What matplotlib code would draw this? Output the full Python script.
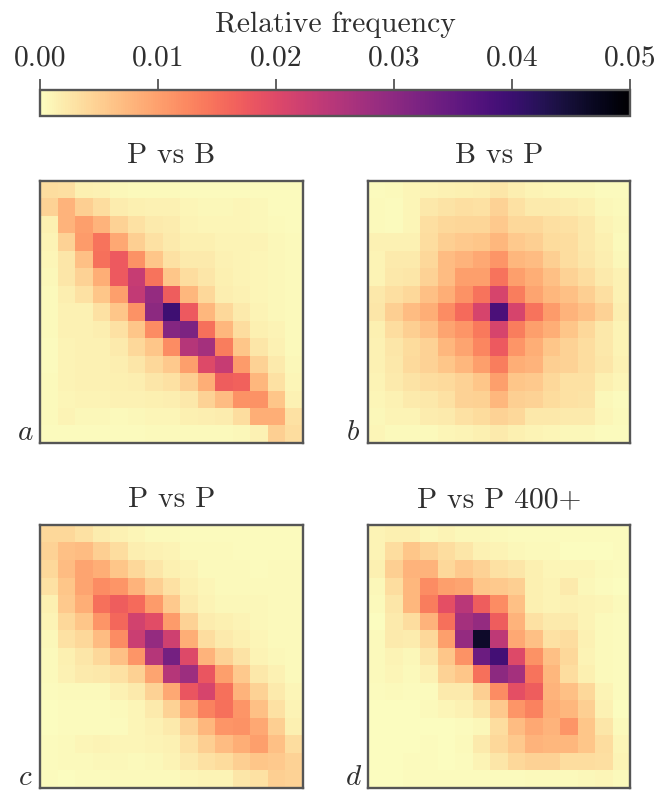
import numpy as np
import matplotlib
matplotlib.use('Agg')
import matplotlib.pyplot as plt

plt.rcParams['font.family'] = 'serif'
plt.rcParams['font.serif'] = ['cmr10']
plt.rcParams['mathtext.fontset'] = 'cm'
plt.rcParams['axes.formatter.use_mathtext'] = True

# relative frequency x 1000
p_vs_b = [
    [3.5, 3.2, 1.5, 1.2, 0.6, 0.5, 0.4, 0.4, 0.3, 0.3, 0.3, 0.3, 0.3, 0.3, 0.3],
    [4.5, 8, 5, 3.5, 1.8, 1.5, 1.2, 1.2, 0.8, 0.7, 0.7, 0.8, 0.6, 0.3, 0.3],
    [1.5, 8, 10, 8, 4.5, 3, 2, 1.8, 1, 0.9, 0.8, 0.8, 0.6, 0.4, 0.3],
    [1, 4.5, 10.5, 14.5, 9, 5, 3, 2, 1.5, 1.4, 1, 1, 1, 0.6, 0.4],
    [0.8, 2.5, 6.5, 15, 17.5, 11.5, 6, 3, 2, 2, 1.2, 1, 0.9, 0.6, 0.4],
    [0.7, 2.5, 4.5, 8.5, 17.5, 23, 14.5, 6, 3.5, 2.5, 1.4, 1, 0.9, 0.7, 0.4],
    [0.5, 1.7, 3, 6, 10, 23.5, 29, 17, 7.5, 4, 1.7, 1.3, 0.9, 0.7, 0.4],
    [0.4, 1.3, 1.3, 3, 6, 11.5, 30, 39.5, 17.5, 7.5, 4, 2, 1, 0.7, 0.4],
    [0.4, 1.2, 1.2, 1.6, 3, 6, 12, 31, 32, 15, 7.5, 3.5, 1.4, 1, 0.4],
    [0.3, 1, 1.2, 1.2, 2, 4, 6, 12, 25, 27, 13.5, 6, 2.5, 1.2, 0.4],
    [0.3, 1, 1.2, 1.2, 1.7, 2.5, 4, 5.5, 10, 20, 23, 10.5, 4.5, 2, 0.6],
    [0.5, 1, 1.2, 1.2, 1.4, 1.7, 2.5, 3, 5, 8.5, 17, 16.5, 7.5, 3, 0.8],
    [0.5, 0.9, 1, 1, 1.2, 1.3, 1.5, 1.6, 2.2, 4.5, 7, 11.5, 11.5, 6, 1.3],
    [0.5, 1, 0.7, 0.7, 0.5, 0.7, 0.8, 0.8, 1.4, 1.7, 1.8, 3.5, 8.5, 8.5, 3],
    [0.3, 0.3, 0.3, 0.3, 0.3, 0.3, 0.4, 0.4, 0.4, 0.4, 0.5, 0.6, 1.2, 5, 3.5],
]
b_vs_p = [
    [0.3, 0.5, 0.9, 1, 1.2, 1.5, 1.6, 2.5, 1.6, 1, 0.8, 0.6, 0.6, 0.3, 0.3],
    [0.4, 0.2, 0.8, 2.2, 2.8, 3.2, 3, 4.5, 3, 2, 2, 1.8, 1.5, 0.6, 0.4],
    [0.4, 0.3, 0.9, 3.3, 4, 4.2, 4.2, 5.5, 4, 4, 3.2, 3, 2.2, 1, 0.6],
    [1.2, 1.2, 1.2, 3.5, 5, 5.5, 6, 7.5, 5.5, 5, 3.7, 3.4, 2.3, 1.5, 0.5],
    [1, 2, 2, 4, 7, 8, 9, 11, 7.5, 7, 5, 3.5, 2.5, 1.7, 0.7],
    [1, 2.2, 2.5, 4.5, 7, 10, 10, 14.5, 10, 8.5, 6.5, 4.5, 3.5, 2, 1.2],
    [2.2, 3.2, 4, 6.5, 8.5, 11.5, 14.5, 21, 13.5, 9.5, 7.5, 6.5, 5, 3.2, 1.3],
    [2.5, 5, 7, 8.5, 12, 15.5, 21, 38, 21, 14.5, 10.5, 8, 6.5, 4.5, 1.6],
    [1.5, 3.5, 5, 6.5, 9.5, 11, 14, 21, 13.5, 10, 8.5, 6, 4, 2.2, 1],
    [1.2, 2.5, 3.7, 4.5, 7.5, 9.5, 12.5, 17.5, 11, 8.5, 6, 4.5, 3.5, 2.3, 1],
    [1.3, 2.2, 3.8, 4.5, 6, 7.5, 10, 13.5, 8.5, 8, 5, 4.5, 3.5, 2.5, 1.2],
    [1, 2, 2.8, 3.5, 3.8, 4.5, 6, 10, 6, 5.5, 4, 3, 3, 1.5, 0.8],
    [0.9, 1.2, 2, 2.3, 3, 4.5, 4.7, 7.5, 5, 4.5, 3.7, 3, 2.8, 0.6, 0.3],
    [0.7, 1, 1, 1.8, 2, 3, 3.7, 4.5, 4, 2.3, 2.2, 2, 2, 0.8, 0.5],
    [0.8, 0.5, 0.4, 0.4, 0.9, 1, 1.5, 2, 1.5, 1, 0.8, 0.7, 0.6, 0.3, 0.3],
]
p_vs_p = [
    [4, 4, 3, 1.8, 1.3, 0.8, 0.5, 0.5, 0.2, 0.2, 0.2, 0.2, 0.2, 0.2, 0.2],
    [4.5, 6.5, 7, 5, 3.5, 1.7, 1.2, 1, 0.5, 0.5, 0.4, 0.2, 0.2, 0.2, 0.2],
    [4, 7, 9.5, 8.5, 6, 4, 2.5, 1.5, 1, 0.5, 0.4, 0.4, 0.3, 0.5, 0.5],
    [3, 6, 9.5, 12, 11, 8, 5, 3, 1.5, 0.8, 0.5, 0.5, 0.5, 0.5, 0.5],
    [1.5, 5.5, 8.5, 15, 17, 15.5, 10.5, 5.5, 2, 1, 0.7, 0.6, 0.6, 0.5, 0.5],
    [1, 4, 6, 11, 16, 21.5, 19.5, 10.5, 4.5, 1.8, 1.5, 1, 0.7, 0.5, 0.4],
    [0.7, 3, 4, 7, 12, 22.5, 29, 22, 8.5, 3.5, 2, 1.5, 0.8, 0.5, 0.4],
    [0.4, 1.5, 2.5, 4, 6.5, 11, 25, 33, 20, 8, 4.5, 2.8, 1, 0.7, 0.5],
    [0.4, 1.2, 2, 2.2, 3, 4.8, 9.5, 25, 28, 18, 10, 5.5, 2.3, 1.2, 0.5],
    [0.3, 0.5, 0.5, 0.5, 1.3, 2, 4.5, 9, 18, 21, 15, 8, 4.5, 2, 0.8],
    [0.1, 0.3, 0.3, 0.2, 0.4, 0.9, 2, 4.5, 9, 13, 15, 11, 6.5, 3, 1],
    [0.1, 0.3, 0.3, 0.3, 0.3, 0.8, 1.2, 2, 4.5, 7.5, 11, 11.5, 9, 5, 1.5],
    [0.2, 0.5, 0.8, 1, 0.9, 0.8, 1, 1.3, 3, 5, 7, 8.5, 10, 6.5, 3.5],
    [0.2, 0.4, 0.4, 0.6, 0.7, 0.5, 0.7, 1, 2, 3, 3.7, 5, 6, 5.5, 4.5],
    [0.2, 0.1, 0.3, 0.3, 0.4, 0.4, 0.4, 0.4, 0.8, 1, 1, 2.5, 3, 5, 4.5],
]
p_vs_p_400 = [
    [1, 1.5, 1.5, 0.6, 1, 0.7, 0.6, 0.4, 0.2, 0.2, 0.2, 0.2, 0.2, 0.2, 0.2],
    [1, 3.5, 6, 4.5, 3.5, 2.5, 1.3, 1, 0.7, 0.5, 0.4, 0.1, 0.1, 0.1, 0.2],
    [1.5, 5, 8, 8, 4, 5.5, 4.5, 3, 2.5, 1.5, 0.8, 0.8, 0.8, 0.5, 0.3],
    [0.6, 3.5, 7.5, 12, 10, 9.5, 6, 5.5, 5, 1.5, 1, 2, 0.6, 0.3, 0.1],
    [0.4, 2.5, 7.5, 13.5, 19, 24.5, 17, 12, 6.5, 1.5, 1, 1.2, 1, 0.8, 0.5],
    [0.1, 2, 3.5, 8, 15, 27, 29, 17, 8, 3, 2, 2, 1, 0.4, 0.2],
    [0.5, 2, 1.8, 4, 10, 29, 46, 24, 9, 6.5, 3, 3.5, 1.2, 0.5, 0.2],
    [0.5, 1, 0.7, 2.5, 6, 11.5, 34, 39, 20, 11.5, 6.5, 4, 1, 0.5, 0.3],
    [0.5, 0.8, 0.5, 1.3, 4.5, 6, 15, 30, 27, 14.5, 7.5, 3.5, 1.5, 0.5, 0.3],
    [0.2, 0.5, 0.2, 0.2, 2, 2, 5, 12, 19, 17, 8, 6.5, 4, 1, 0.3],
    [0.1, 0.1, 0.1, 0.4, 0.9, 1.3, 2.5, 5.5, 11, 13, 8.5, 7.5, 5, 1.3, 0.1],
    [0.1, 0.1, 0.1, 0.1, 0.1, 0.3, 0.6, 3.5, 7, 9, 8, 11, 6, 2.5, 0.4],
    [0.1, 0.1, 0.1, 0.3, 0.1, 0.5, 2, 4, 5.5, 8, 7.5, 7.5, 6, 3.5, 0.8],
    [0.1, 0.1, 0.3, 0.3, 0.1, 0.3, 1, 2.5, 4, 4.5, 4.5, 3.5, 3.5, 3.2, 1],
    [0.1, 0.1, 0.2, 0.2, 0.2, 0.2, 0.2, 0.2, 0.2, 0.5, 0.5, 0.5, 0.7, 0.9, 0.5],
]
titles = ['P vs B', 'B vs P', 'P vs P', 'P vs P 400+']
letters = ['a', 'b', 'c', 'd']
panels = [p_vs_b, b_vs_p, p_vs_p, p_vs_p_400]
cbar_ticks = [0.00, 0.01, 0.02, 0.03, 0.04, 0.05]

W, H = 657, 791
edge = '#555555'
ink = '#2f2f2f'

def px_axes(fig, x0, y0, x1, y1):
    # pixel box measured from the top left of the picture
    return fig.add_axes([x0 / W, 1 - y1 / H, (x1 - x0) / W, (y1 - y0) / H])

fig = plt.figure(figsize=(W / 100, H / 100), dpi=100)

boxes = [(40, 181, 303, 443), (368, 181, 630, 443),
         (40, 525, 303, 788), (368, 525, 630, 788)]

for box, data, title, letter in zip(boxes, panels, titles, letters):
    ax = px_axes(fig, *box)
    im = ax.imshow(np.array(data) / 1000, cmap='magma_r', vmin=0, vmax=0.05,
                   aspect='auto', interpolation='nearest')
    ax.set_xticks([])
    ax.set_yticks([])
    for s in ax.spines.values():
        s.set_color(edge)
        s.set_linewidth(1.7)
    ax.set_title(title, fontsize=21.3, color=ink, pad=13)
    ax.text(-0.057, 0.012, '$' + letter + '$', transform=ax.transAxes,
            fontsize=21, color=ink, ha='center', va='baseline')

cax = px_axes(fig, 40, 90, 630, 116)
cb = fig.colorbar(im, cax=cax, orientation='horizontal', ticklocation='top')
cb.set_ticks(cbar_ticks)
cb.set_ticklabels(['%.2f' % t for t in cbar_ticks])
cb.ax.tick_params(length=8, width=1.3, color=edge, labelsize=21.3,
                  labelcolor=ink, pad=5.5)
cb.set_label('Relative frequency', fontsize=21.3, color=ink, labelpad=9.5)
cb.outline.set_edgecolor(edge)
cb.outline.set_linewidth(1.7)

plt.savefig('out.png', dpi=100)
